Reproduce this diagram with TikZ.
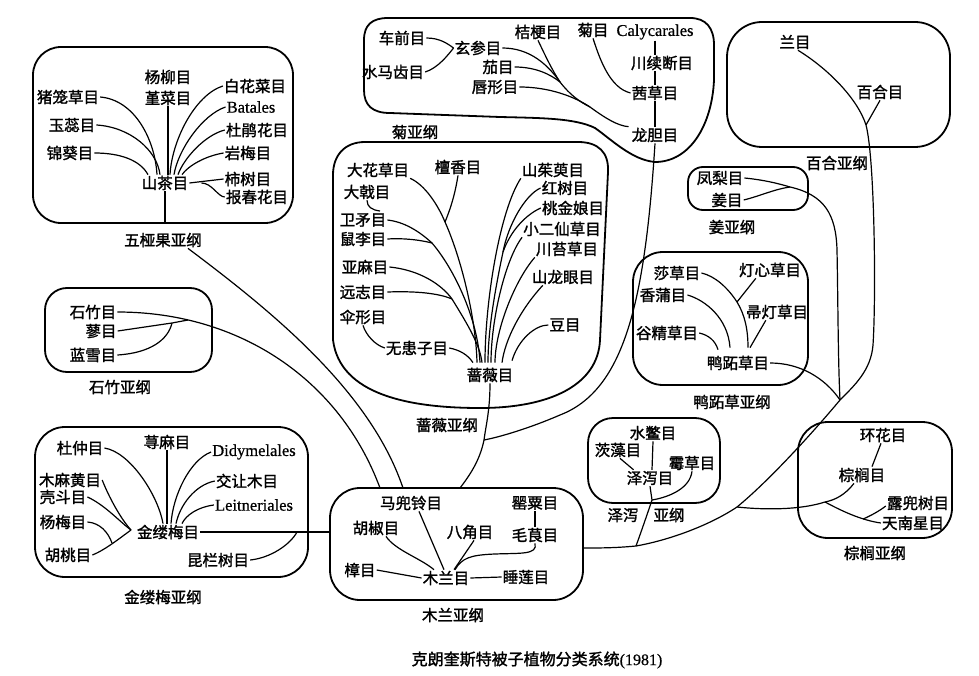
\documentclass[tikz,border=0pt]{standalone}
\usepackage{fontspec}
\setmainfont{Liberation Serif}
\newfontfamily\cjk{Noto Sans CJK SC}[AutoFakeBold=1.6]
\newfontfamily\latinfont{Liberation Serif}[UprightFeatures={FakeBold=0.7}]
\tikzstyle{order} = [inner sep=1pt, font=\cjk\bfseries\fontsize{15.5}{17}\selectfont]
\tikzstyle{latin} = [inner sep=1pt, font=\latinfont\fontsize{16.5}{18}\selectfont]
\tikzstyle{subclass} = [inner sep=1pt, font=\cjk\bfseries\fontsize{15.5}{17}\selectfont]
\tikzstyle{blob} = [line width=1.8pt, rounded corners=28pt]
\tikzstyle{hull} = [line width=1.8pt]
\tikzstyle{link} = [line width=1.2pt]

\begin{document}
\begin{tikzpicture}[x=1pt, y=-1pt]
\useasboundingbox (0,0) rectangle (979,676);

% Dilleniidae
\draw [blob] (33,47) rectangle (293,223);
\node (nepenthales) [order] at (68,97) {猪笼草目};
\node (salicales) [order] at (168,77) {杨柳目};
\node (violales) [order] at (168,98) {堇菜目};
\node (capparales) [order] at (255,86) {白花菜目};
\node (batales) [latin] at (251,107) {Batales};
\node (lecythidales) [order] at (72,125) {玉蕊目};
\node (ericales) [order] at (257,130) {杜鹃花目};
\node (malvales) [order] at (70,153) {锦葵目};
\node (diapensiales) [order] at (248,153) {岩梅目};
\node (theales) [order] at (165,183) {山茶目};
\node (ebenales) [order] at (248,179) {柿树目};
\node (primulales) [order] at (257,197) {报春花目};
\node (dilleniidae) [subclass] at (163,240) {五桠果亚纲};
\coordinate (dillBottom) at (165,223);

\draw [link] (nepenthales.east) .. controls (135,100) and (155,140) .. ([xshift=-8pt]theales.north);
\draw [link] (lecythidales.east) .. controls (130,127) and (157,150) .. ([xshift=-5pt]theales.north);
\draw [link] (malvales.east) .. controls (120,153) and (140,160) .. ([xshift=-17pt]theales.north);
\draw [link] (violales.south) -- (violales.south |- theales.north);
\draw [link] (capparales.west) .. controls (195,95) and (172,140) .. ([xshift=5pt]theales.north);
\draw [link] (batales.west) .. controls (202,115) and (178,150) .. ([xshift=9pt]theales.north);
\draw [link] (ericales.west) .. controls (205,135) and (184,158) .. ([xshift=13pt]theales.north);
\draw [link] (diapensiales.west) .. controls (205,156) and (188,166) .. ([xshift=17pt]theales.north);
\draw [link] (theales.east) -- (ebenales.west);
\draw [link] ([xshift=12pt]theales.east) .. controls (212,183) and (218,197) .. (primulales.west);
\draw [link] (theales.south) -- (dillBottom);

% Caryophyllidae
\draw [blob, rounded corners=22pt] (45,288) rectangle (212,372);
\node (caryophyllales) [order] at (93,312) {石竹目};
\node (polygonales) [order] at (101,331) {蓼目};
\node (plumbaginales) [order] at (93,355) {蓝雪目};
\node (caryophyllidae) [subclass] at (120,387) {石竹亚纲};
\coordinate (caryJoin) at (188,320);
\coordinate (polyJoin) at (172,323);

\draw [link] (polygonales.east) -- (polyJoin) -- (caryJoin);
\draw [link] (plumbaginales.east) .. controls (150,353) and (168,340) .. (polyJoin);

% Hamamelidae
\draw [blob, rounded corners=30pt] (35,427) rectangle (308,577);
\node (eucommiales) [order] at (80,448) {杜仲目};
\node (urticales) [order] at (167,442) {荨麻目};
\node (didymelales) [latin] at (254,452) {Didymelales};
\node (casuarinales) [order] at (70,480) {木麻黄目};
\node (daphniphyllales) [order] at (247,481) {交让木目};
\node (fagales) [order] at (63,497) {壳斗目};
\node (leitneriales) [latin] at (254,505) {Leitneriales};
\node (myricales) [order] at (63,522) {杨梅目};
\node (hamamelidales) [order] at (168,532) {金缕梅目};
\node (juglandales) [order] at (68,555) {胡桃目};
\node (trochodendrales) [order] at (218,560) {昆栏树目};
\node (hamamelidae) [subclass] at (163,597) {金缕梅亚纲};
\coordinate (hamaLeft) at (131,530);
\coordinate (juglJoin) at (112,543);

\draw [link] (eucommiales.east) .. controls (130,452) and (158,495) .. ([xshift=-5pt]hamamelidales.north);
\draw [link] (urticales.south) -- (urticales.south |- hamamelidales.north);
\draw [link] (didymelales.west) .. controls (190,460) and (173,495) .. ([xshift=3pt]hamamelidales.north);
\draw [link] (daphniphyllales.west) .. controls (195,485) and (180,505) .. ([xshift=8pt]hamamelidales.north);
\draw [link] (leitneriales.west) .. controls (198,507) and (186,515) .. ([xshift=14pt]hamamelidales.north);
\draw [link] (casuarinales.east) .. controls (108,495) and (120,518) .. (hamaLeft);
\draw [link] (fagales.east) .. controls (105,505) and (120,522) .. (hamaLeft);
\draw [link] (myricales.east) .. controls (100,523) and (108,532) .. (juglJoin);
\draw [link] (juglandales.east) .. controls (105,550) and (120,538) .. (hamaLeft);
\draw [link] (trochodendrales.east) .. controls (270,558) and (290,545) .. (297,532);

% Magnoliidae
\draw [blob, rounded corners=30pt] (330,488) rectangle (583,600);
\node (aristolochiales) [order] at (411,503) {马兜铃目};
\node (papaverales) [order] at (535,503) {罂粟目};
\node (piperales) [order] at (376,528) {胡椒目};
\node (illiciales) [order] at (470,532) {八角目};
\node (ranunculales) [order] at (535,535) {毛茛目};
\node (laurales) [order] at (360,570) {樟目};
\node (magnoliales) [order] at (446,578) {木兰目};
\node (nymphaeales) [order] at (526,577) {睡莲目};
\node (magnoliidae) [subclass] at (453,615) {木兰亚纲};
\coordinate (magWest) at (330,532);
\coordinate (magEast) at (583,548);
\coordinate (magTopCary) at (380,488);
\coordinate (magTopDill) at (403,488);
\coordinate (magTopRosa) at (460,488);

\draw [link] ([xshift=8pt]aristolochiales.south) -- ([xshift=-2pt]magnoliales.north);
\draw [link] ([xshift=10pt]piperales.south) .. controls (395,550) and (420,558) .. ([xshift=-12pt]magnoliales.north);
\draw [link] ([xshift=4pt]illiciales.south) -- ([xshift=8pt]magnoliales.north);
\draw [link] (ranunculales.south) .. controls (538,555) and (520,553) .. (495,554) .. controls (470,555) and (462,558) .. ([xshift=9pt]magnoliales.north);
\draw [link] (papaverales.south) -- (ranunculales.north);
\draw [link] (laurales.east) -- (magnoliales.west);
\draw [link] (magnoliales.east) -- (nymphaeales.west);

\draw [link] (hamamelidales.east) -- (magWest);
\draw [link] ([xshift=-15pt]dilleniidae.south east) .. controls (270,310) and (370,390) .. (magTopDill);
\draw [link] (caryophyllales.east) .. controls (240,312) and (340,380) .. (magTopCary);

% Rosidae
\draw [hull] (333,340) .. controls (340,395) and (410,408) .. (480,408) .. controls (550,408) and (598,385) .. (600,340) -- (608,172) .. controls (609,152) and (598,142) .. (578,142) -- (365,142) .. controls (345,142) and (333,155) .. (333,175) -- cycle;
\node (rafflesiales) [order] at (378,170) {大花草目};
\node (santalales) [order] at (458,167) {檀香目};
\node (cornales) [order] at (553,170) {山茱萸目};
\node (euphorbiales) [order] at (367,192) {大戟目};
\node (rhizophorales) [order] at (565,188) {红树目};
\node (celastrales) [order] at (363,220) {卫矛目};
\node (myrtales) [order] at (573,208) {桃金娘目};
\node (rhamnales) [order] at (363,239) {鼠李目};
\node (haloragales) [order] at (562,229) {小二仙草目};
\node (podostemales) [order] at (567,249) {川苔草目};
\node (linales) [order] at (365,267) {亚麻目};
\node (proteales) [order] at (563,277) {山龙眼目};
\node (polygalales) [order] at (363,292) {远志目};
\node (apiales) [order] at (363,317) {伞形目};
\node (fabales) [order] at (565,325) {豆目};
\node (sapindales) [order] at (417,348) {无患子目};
\node (rosales) [order] at (490,375) {蔷薇目};
\node (rosidae) [subclass] at (447,425) {蔷薇亚纲};
\coordinate (santaJoin) at (445,222);
\coordinate (rhamJoin) at (432,243);
\coordinate (linJoin) at (452,299);
\coordinate (myrtJoin) at (503,252);
\coordinate (rosaJoin) at (484,440);

\draw [link] (rafflesiales.south east) .. controls (425,185) and (438,205) .. (santaJoin) .. controls (462,260) and (476,320) .. ([xshift=-13pt,yshift=4pt]rosales.north);
\draw [link] (santalales.south) .. controls (455,195) and (450,210) .. (santaJoin);
\draw [link] (euphorbiales.south) .. controls (367,207) and (372,210) .. (380,211);
\draw [link] (celastrales.east) .. controls (405,222) and (420,232) .. (rhamJoin) .. controls (455,270) and (478,320) .. ([xshift=-10pt,yshift=4pt]rosales.north);
\draw [link] (rhamnales.east) .. controls (405,238) and (420,240) .. (rhamJoin);
\draw [link] (linales.east) .. controls (420,270) and (442,285) .. (linJoin) .. controls (468,325) and (480,345) .. ([xshift=-8pt,yshift=4pt]rosales.north);
\draw [link] (polygalales.east) .. controls (415,291) and (438,293) .. (linJoin);
\draw [link] (apiales.south) .. controls (366,335) and (375,345) .. (sapindales.west);
\draw [link] (sapindales.east) .. controls (460,350) and (468,355) .. ([xshift=-17pt,yshift=4pt]rosales.north);
\draw [link] (cornales.south west) .. controls (500,210) and (485,300) .. ([xshift=-5pt,yshift=4pt]rosales.north);
\draw [link] (rhizophorales.west) .. controls (525,195) and (508,225) .. (myrtJoin) .. controls (495,290) and (488,330) .. ([xshift=-2pt,yshift=4pt]rosales.north);
\draw [link] (myrtales.west) .. controls (525,215) and (510,232) .. (myrtJoin);
\draw [link] (haloragales.south west) .. controls (505,260) and (491,320) .. ([xshift=1pt,yshift=4pt]rosales.north);
\draw [link] (podostemales.south west) .. controls (515,280) and (495,330) .. ([xshift=5pt,yshift=4pt]rosales.north);
\draw [link] ([xshift=12pt]proteales.south west) .. controls (520,310) and (505,340) .. ([xshift=12pt,yshift=4pt]rosales.north);
\draw [link] (fabales.west) .. controls (535,325) and (518,340) .. ([xshift=22pt,yshift=6pt]rosales.north);
\draw [link] (rosales.south) .. controls (490,410) and (486,425) .. (rosaJoin) .. controls (480,460) and (470,475) .. (magTopRosa);

% Asteridae
\draw [hull] (364,40) .. controls (364,25) and (372,18) .. (388,18) -- (690,18) .. controls (706,18) and (714,28) .. (714,45) -- (714,80) .. controls (712,125) and (690,162) .. (655,162) .. controls (632,160) and (612,140) .. (595,128) .. controls (575,118) and (540,118) .. (500,117) -- (390,113) .. controls (372,113) and (364,105) .. (364,90) -- cycle;
\node (plantaginales) [order] at (402,38) {车前目};
\node (callitrichales) [order] at (393,72) {水马齿目};
\node (scrophulariales) [order] at (478,48) {玄参目};
\node (campanulales) [order] at (538,32) {桔梗目};
\node (asterales) [order] at (593,30) {菊目};
\node (calycerales) [latin] at (655,32) {Calycarales};
\node (dipsacales) [order] at (662,63) {川续断目};
\node (solanales) [order] at (498,67) {茄目};
\node (lamiales) [order] at (495,87) {唇形目};
\node (rubiales) [order] at (655,93) {茜草目};
\node (gentianales) [order] at (655,135) {龙胆目};
\node (asteridae) [subclass] at (415,132) {菊亚纲};
\coordinate (scroMid) at (560,82);
\coordinate (lamiJoin) at (590,107);

\draw [link] (plantaginales.east) .. controls (440,38) and (448,44) .. (scrophulariales.west);
\draw [link] (callitrichales.east) .. controls (438,68) and (448,55) .. (scrophulariales.west);
\draw [link] (scrophulariales.east) .. controls (530,48) and (548,65) .. (scroMid) .. controls (570,95) and (580,102) .. (lamiJoin) .. controls (605,118) and (618,126) .. ([xshift=-2pt]gentianales.north west);
\draw [link] (campanulales.south) .. controls (545,55) and (552,70) .. (scroMid);
\draw [link] (solanales.east) .. controls (535,67) and (550,74) .. (scroMid);
\draw [link] (lamiales.east) .. controls (550,87) and (575,97) .. (lamiJoin);
\draw [link] (asterales.south) .. controls (600,60) and (610,88) .. (rubiales.west);
\draw [link] (calycerales.south) -- (calycerales.south |- dipsacales.north);
\draw [link] (rubiales.north |- dipsacales.south) -- (rubiales.north);
\draw [link] (rubiales.south) -- (gentianales.north);
\draw [link] (gentianales.south) .. controls (645,300) and (625,390) .. (560,415) .. controls (530,428) and (500,437) .. (rosaJoin);

% Liliidae
\draw [blob, rounded corners=35pt] (727,22) rectangle (950,147);
\node (orchidales) [order] at (795,42) {兰目};
\node (liliales) [order] at (880,92) {百合目};
\node (liliidae) [subclass] at (837,163) {百合亚纲};
\coordinate (liliJoin) at (866,125);

% Zingiberidae
\draw [blob, rounded corners=15pt] (688,167) rectangle (808,210);
\node (bromeliales) [order] at (720,178) {凤梨目};
\node (zingiberales) [order] at (727,200) {姜目};
\node (zingiberidae) [subclass] at (732,227) {姜亚纲};
\coordinate (zingJoin) at (790,187);

% Commelinidae
\draw [blob, rounded corners=30pt] (633,252) rectangle (808,385);
\node (cyperales) [order] at (677,273) {莎草目};
\node (juncales) [order] at (770,270) {灯心草目};
\node (typhales) [order] at (663,295) {香蒲目};
\node (restionales) [order] at (777,312) {帚灯草目};
\node (eriocaulales) [order] at (667,333) {谷精草目};
\node (commelinales) [order] at (738,363) {鸭跖草目};
\node (commelinidae) [subclass] at (732,402) {鸭跖草亚纲};
\coordinate (juncJoin) at (737,302);

\draw [link] (cyperales.east) .. controls (715,276) and (728,288) .. (juncJoin) .. controls (745,315) and (748,330) .. ([xshift=10pt,yshift=7pt]commelinales.north);
\draw [link] ([xshift=18pt]juncales.south west) -- (juncJoin);
\draw [link] (typhales.east) .. controls (705,300) and (728,318) .. ([xshift=-8pt,yshift=7pt]commelinales.north);
\draw [link] ([xshift=21pt]restionales.south west) -- ([xshift=12pt,yshift=7pt]commelinales.north);
\draw [link] (eriocaulales.east) .. controls (708,335) and (715,340) .. ([xshift=-20pt,yshift=5pt]commelinales.north);

% Alismatidae
\draw [blob, rounded corners=25pt] (588,418) rectangle (720,503);
\node (hydrocharitales) [order] at (653,433) {水鳖目};
\node (najadales) [order] at (618,450) {茨藻目};
\node (triuridales) [order] at (692,463) {霉草目};
\node (alismatales) [order] at (650,478) {泽泻目};
\node (alismatidae) [subclass] at (646,515) {泽泻\hspace{15pt}亚纲};
\coordinate (alisMid) at (652,500);

\draw [link] (hydrocharitales.south) -- ([xshift=2pt]alismatales.north);
\draw [link] ([xshift=2pt]najadales.south) -- ([xshift=8pt]alismatales.north west);
\draw [link] (triuridales.south) .. controls (690,488) and (670,497) .. (alisMid);

% Arecidae
\draw [blob, rounded corners=30pt] (798,422) rectangle (952,538);
\node (cyclanthales) [order] at (883,435) {环花目};
\node (arecales) [order] at (862,475) {棕榈目};
\node (pandanales) [order] at (918,503) {露兜树目};
\node (arales) [order] at (913,523) {天南星目};
\node (arecidae) [subclass] at (875,553) {棕榈亚纲};
\coordinate (palmMid) at (825,502);
\coordinate (araMid) at (863,519);

\draw [link] ([xshift=-2pt]cyclanthales.south) -- ([xshift=10pt]arecales.north);
\draw [link] (arales.west) .. controls (860,520) and (840,510) .. (palmMid);
\draw [link] ([yshift=-3pt]pandanales.west) .. controls (878,512) and (868,517) .. (araMid);

% monocot trunk
\coordinate (monoJoin) at (840,400);
\coordinate (palmJoin) at (737,507);
\coordinate (alisJoin) at (636,546);

\draw [link] ([xshift=3pt]orchidales.south) .. controls (830,70) and (858,100) .. (liliJoin) .. controls (875,160) and (876,300) .. (873,345) .. controls (871,370) and (855,385) .. (monoJoin) .. controls (815,430) and (770,480) .. (palmJoin) .. controls (710,525) and (670,540) .. (alisJoin) .. controls (615,548) and (600,548) .. (magEast);
\draw [link] (liliales.south) -- (liliJoin);
\draw [link] (bromeliales.east) .. controls (765,180) and (780,184) .. (zingJoin);
\draw [link] (zingiberales.east) .. controls (760,196) and (775,189) .. (zingJoin);
\draw [link] (zingJoin) .. controls (825,195) and (836,215) .. (837,250) .. controls (838,300) and (838,360) .. (monoJoin);
\draw [link] (commelinales.east) .. controls (800,363) and (825,378) .. (monoJoin);
\draw [link] ([xshift=-8pt]arecales.south) .. controls (845,495) and (835,500) .. (palmMid) .. controls (800,510) and (765,510) .. (palmJoin);
\draw [link] (alismatales.south) -- (alisMid) .. controls (647,515) and (640,535) .. (alisJoin);

\node (caption) [subclass, font=\cjk\bfseries\fontsize{16}{18}\selectfont] at (537,660) {克朗奎斯特被子植物分类系统{\latinfont\mdseries(1981)}};
\end{tikzpicture}
\end{document}
